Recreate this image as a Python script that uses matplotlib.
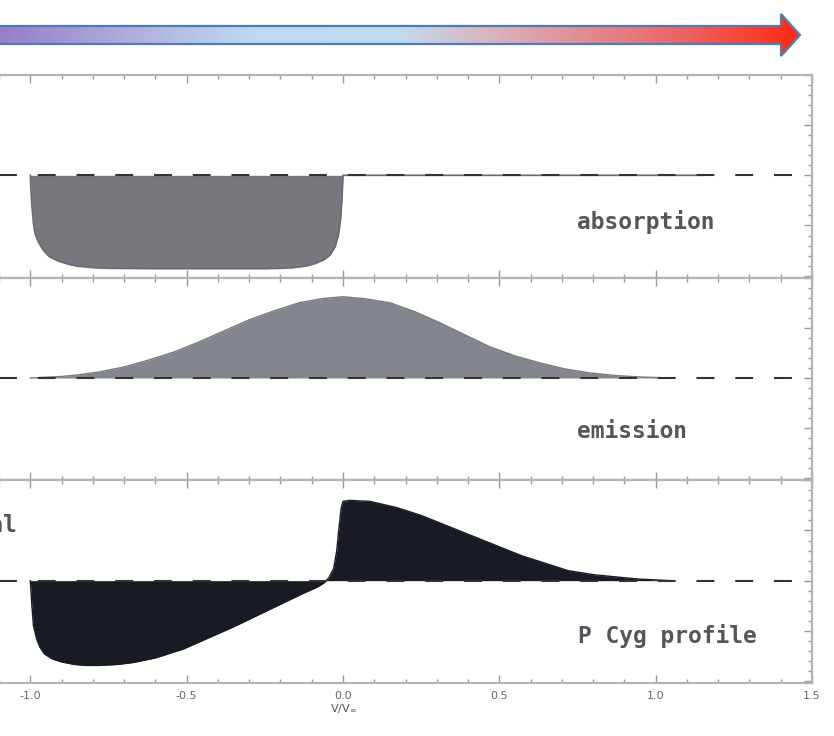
import numpy as np
import matplotlib
matplotlib.use("Agg")
import matplotlib.pyplot as plt
from matplotlib.colors import LinearSegmentedColormap
from matplotlib.patches import Polygon
from matplotlib.ticker import MultipleLocator, FormatStrFormatter

# absorption component (normalised flux vs v/v_inf)
abs_v = [-1.0, -0.998, -0.995, -0.99, -0.985, -0.975, -0.96, -0.94, -0.91, -0.88,
         -0.85, -0.8, -0.75, -0.6, -0.4, -0.25, -0.2, -0.16, -0.12, -0.09,
         -0.06, -0.04, -0.025, -0.015, -0.008, -0.003, 0.0, 1.15]
abs_f = [1.0, 0.85, 0.70, 0.52, 0.42, 0.34, 0.26, 0.19, 0.145, 0.115,
         0.095, 0.08, 0.073, 0.07, 0.07, 0.07, 0.073, 0.08, 0.095, 0.12,
         0.16, 0.21, 0.29, 0.40, 0.55, 0.78, 1.0, 1.0]

# emission component
emi_v = [-1.0, -0.9, -0.85, -0.78, -0.7, -0.62, -0.54, -0.46, -0.38, -0.30,
         -0.22, -0.14, -0.07, 0.0, 0.07, 0.15, 0.23, 0.31, 0.39, 0.47,
         0.55, 0.63, 0.71, 0.79, 0.87, 0.95, 1.05]
emi_f = [1.0, 1.015, 1.03, 1.06, 1.11, 1.18, 1.26, 1.36, 1.47, 1.58,
         1.67, 1.75, 1.79, 1.81, 1.79, 1.75, 1.66, 1.55, 1.43, 1.31,
         1.22, 1.15, 1.09, 1.05, 1.025, 1.01, 1.0]

# resulting P Cygni profile
pcyg_v = [-1.0, -0.995, -0.99, -0.98, -0.97, -0.955, -0.93, -0.9, -0.86, -0.82,
          -0.78, -0.72, -0.67, -0.6, -0.51, -0.43, -0.35, -0.27, -0.19, -0.13,
          -0.08, -0.06, -0.045, -0.03, -0.02, -0.012, -0.006, 0.0, 0.02, 0.086,
          0.17, 0.25, 0.33, 0.41, 0.49, 0.57, 0.65, 0.72, 0.8, 0.88,
          0.95, 1.05]
pcyg_f = [1.0, 0.75, 0.55, 0.42, 0.34, 0.27, 0.22, 0.19, 0.165, 0.155,
          0.155, 0.165, 0.185, 0.23, 0.32, 0.43, 0.54, 0.66, 0.78, 0.87,
          0.94, 0.98, 1.03, 1.12, 1.30, 1.55, 1.72, 1.79, 1.80, 1.79,
          1.73, 1.65, 1.55, 1.45, 1.35, 1.25, 1.17, 1.10, 1.06, 1.035,
          1.015, 1.0]

panel_labels = ["absorption", "emission", "P Cyg profile"]
x_ticks = [-1.0, -0.5, 0.0, 0.5, 1.0, 1.5]

arrow_stops = [(0.0, "#957fc6"), (0.18, "#b2b3e0"), (0.32, "#bfdaf0"),
               (0.5, "#c0dcf0"), (0.6, "#d8b8c4"), (0.72, "#e09098"),
               (0.86, "#ec6262"), (1.0, "#ff2a10")]

W, H = 834, 736
fig = plt.figure(figsize=(W / 100, H / 100), dpi=100)

left = -126 / W
width = 938 / W
top_px, bot_px = 75, 683
ph = (bot_px - top_px) / 3

axes = []
for i in range(3):
    b = 1 - (top_px + (i + 1) * ph) / H
    ax = fig.add_axes([left, b, width, ph / H])
    axes.append(ax)

spine_col = "#b4b4b4"
for i, ax in enumerate(axes):
    ax.set_xlim(-1.5, 1.5)
    ax.set_ylim(-0.02, 2.0)
    for s in ax.spines.values():
        s.set_color(spine_col)
        s.set_linewidth(1.6)
    ax.xaxis.set_major_locator(MultipleLocator(0.5))
    ax.xaxis.set_minor_locator(MultipleLocator(0.1))
    ax.yaxis.set_major_locator(MultipleLocator(0.5))
    ax.yaxis.set_minor_locator(MultipleLocator(0.1))
    ax.tick_params(which="both", direction="in", top=True, right=True,
                   color="#999999", width=1.0)
    ax.tick_params(which="major", length=6)
    ax.tick_params(which="minor", length=3)
    ax.set_yticklabels([])
    if i < 2:
        ax.set_xticklabels([])
    ax.plot([-1.5, 1.5], [1, 1], color="#333333", lw=1.5,
            dashes=(8.6, 10), zorder=3)

# absorption
ax = axes[0]
ax.fill_between(abs_v, abs_f, 1.0, color="#77777d", lw=0)
ax.plot(abs_v, abs_f, color="#6a6a70", lw=1.2)

# emission
ax = axes[1]
ax.fill_between(emi_v, emi_f, 1.0, color="#84868e", lw=0)
ax.plot(emi_v, emi_f, color="#777980", lw=1.0)

# P Cyg
ax = axes[2]
ax.fill_between(pcyg_v, pcyg_f, 1.0, color="#181a24", lw=0)
ax.plot(pcyg_v, pcyg_f, color="#181a24", lw=1.0)
ax.set_xticks(x_ticks)
ax.xaxis.set_major_locator(MultipleLocator(0.5))
ax.xaxis.set_major_formatter(FormatStrFormatter("%.1f"))
ax.tick_params(axis="x", labelsize=8, labelcolor="#666666", pad=6)
ax.set_xlabel(r"V/V$_\infty$", fontsize=8, color="#555555", labelpad=1)
# hide the -1.5 label, which lies outside the picture
for t in ax.get_xticklabels():
    if t.get_text().startswith("-1.5") or t.get_text().startswith("\u22121.5"):
        t.set_visible(False)

lab_kw = dict(fontsize=16.5, fontweight="bold", family="DejaVu Sans Mono",
              color="#55555c", va="center", ha="left")
label_y = [0.53, 0.47, 0.45]
for ax, txt, ly in zip(axes, panel_labels, label_y):
    ax.text(0.75, ly, txt, **lab_kw)
axes[2].text(-1.04, 1.55, "total", **dict(lab_kw, ha="right"))

# gradient arrow on top
ov = fig.add_axes([0, 0, 1, 1], zorder=10)
ov.set_xlim(0, W)
ov.set_ylim(H, 0)
ov.axis("off")
pts = [(-5, 26), (781, 26), (781, 14), (800, 35), (781, 56), (781, 44), (-5, 44)]
cmap = LinearSegmentedColormap.from_list("arr", arrow_stops)
grad = np.linspace(0, 1, 512).reshape(1, -1)
im = ov.imshow(grad, cmap=cmap, extent=(0, 800, 56, 14), aspect="auto")
poly = Polygon(pts, closed=True, facecolor="none", edgecolor="#4f7db3", lw=1.6)
ov.add_patch(poly)
im.set_clip_path(poly)
ov.set_xlim(0, W)
ov.set_ylim(H, 0)

fig.savefig("out.png", dpi=100)
